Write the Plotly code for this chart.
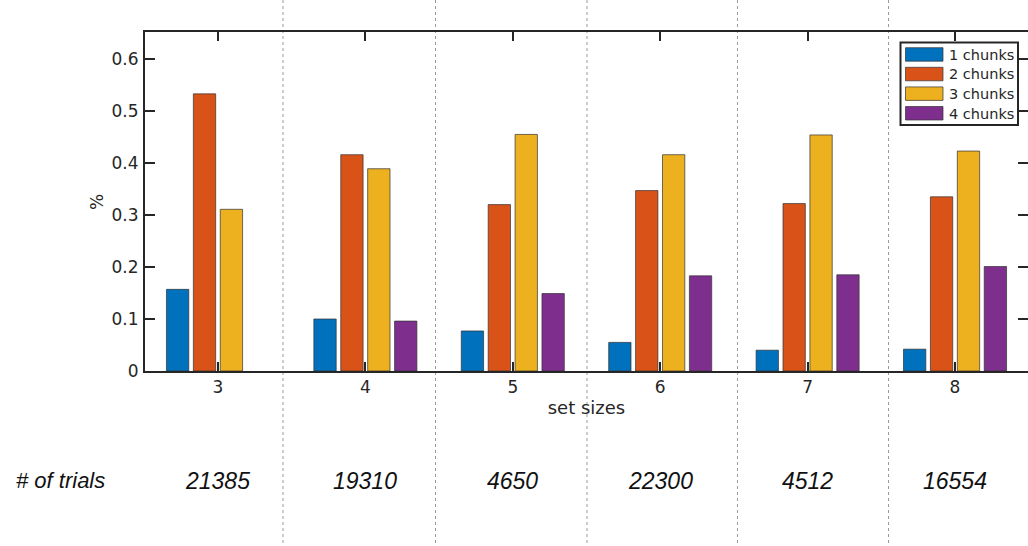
import plotly.graph_objects as go

# Data
set_sizes = [3, 4, 5, 6, 7, 8]
series_names = ["1 chunks", "2 chunks", "3 chunks", "4 chunks"]
chunks_1 = [0.157, 0.100, 0.077, 0.055, 0.040, 0.042]
chunks_2 = [0.533, 0.416, 0.320, 0.347, 0.322, 0.335]
chunks_3 = [0.311, 0.389, 0.455, 0.416, 0.454, 0.423]
chunks_4 = [0.000, 0.096, 0.149, 0.183, 0.185, 0.201]
n_trials = ["21385", "19310", "4650", "22300", "4512", "16554"]
y_ticks = [0, 0.1, 0.2, 0.3, 0.4, 0.5, 0.6]
y_tick_labels = ["0", "0.1", "0.2", "0.3", "0.4", "0.5", "0.6"]

colors = ["#0072BD", "#D95319", "#EDB120", "#7E2F8E"]
series = [chunks_1, chunks_2, chunks_3, chunks_4]

W, H = 1028, 546
L, R, T, B = 145, 0, 32, 175
AX = "#262626"
FONT = "DejaVu Sans"
EDGE = "rgba(50,50,50,0.7)"


def px(xp):
    return (xp - L) / (W - L - R)


def py(yp):
    return (H - B - yp) / (H - T - B)


fig = go.Figure()
for name, vals, c in zip(series_names, series, colors):
    fig.add_trace(go.Bar(
        x=set_sizes, y=vals, name=name,
        marker=dict(color=c,
                    line=dict(color=EDGE, width=[1 if v > 0 else 0 for v in vals])),
        showlegend=False,
    ))

shapes = []
# dotted column separators of the trials table
for xp in [283, 435.5, 587, 737.5, 888.5]:
    shapes.append(dict(type="line", xref="paper", yref="paper",
                       x0=px(xp), x1=px(xp), y0=py(0), y1=py(H),
                       line=dict(color="#9a9a9a", width=1, dash="dot"),
                       layer="below"))

# legend box
shapes.append(dict(type="rect", xref="paper", yref="paper",
                   x0=px(900.5), x1=px(1018), y0=py(42.5), y1=py(125),
                   line=dict(color=AX, width=2), fillcolor="white", layer="above"))
annotations = []
row_top = [47.7, 67.3, 86.9, 106.5]
for name, c, yt in zip(series_names, colors, row_top):
    shapes.append(dict(type="rect", xref="paper", yref="paper",
                       x0=px(905.5), x1=px(943), y0=py(yt), y1=py(yt + 13.5),
                       line=dict(color=EDGE, width=1),
                       fillcolor=c, layer="above"))
    annotations.append(dict(text=name, xref="paper", yref="paper",
                            x=px(947), y=py(yt + 7), xanchor="left", yanchor="middle",
                            showarrow=False, font=dict(family=FONT, size=14.5, color=AX)))

# y axis title
annotations.append(dict(text="%", xref="paper", yref="paper", x=px(97), y=py(202),
                        textangle=-90, showarrow=False, xanchor="center", yanchor="middle",
                        font=dict(family=FONT, size=17, color=AX)))

# trials row
annotations.append(dict(text="<i># of trials</i>", xref="paper", yref="paper",
                        x=px(60), y=py(481), showarrow=False, xanchor="center",
                        yanchor="middle",
                        font=dict(family="Liberation Sans", size=22, color="#111111")))
for s, n in zip(set_sizes, n_trials):
    annotations.append(dict(text=f"<i>{n}</i>", xref="x", yref="paper",
                            x=s, y=py(481), showarrow=False, xanchor="center",
                            yanchor="middle",
                            font=dict(family="Liberation Sans", size=23, color="#111111")))

fig.update_layout(
    width=W, height=H,
    margin=dict(l=L, r=R, t=T, b=B, pad=0),
    paper_bgcolor="white", plot_bgcolor="white",
    barmode="group", bargap=0.27, bargroupgap=0.17,
    shapes=shapes, annotations=annotations,
    font=dict(family=FONT, size=17, color=AX),
    xaxis=dict(
        range=[2.505, 8.495], tickvals=set_sizes,
        ticktext=[str(s) for s in set_sizes],
        ticks="inside", ticklen=9, tickwidth=2, tickcolor=AX,
        showline=True, linecolor=AX, linewidth=2, mirror="ticks",
        showgrid=False, zeroline=False,
        tickfont=dict(family=FONT, size=17, color=AX),
        title=dict(text="set sizes", standoff=5,
                   font=dict(family=FONT, size=18, color=AX)),
    ),
    yaxis=dict(
        range=[0, 0.652], tickvals=y_ticks, ticktext=y_tick_labels,
        ticks="inside", ticklen=10, tickwidth=2, tickcolor=AX,
        showline=True, linecolor=AX, linewidth=2, mirror=False,
        showgrid=False, zeroline=False, ticklabelstandoff=1,
        tickfont=dict(family=FONT, size=17, color=AX),
    ),
    yaxis2=dict(
        overlaying="y", side="right", matches="y", anchor="x",
        range=[0, 0.652], tickvals=y_ticks, showticklabels=False,
        ticks="inside", ticklen=10, tickwidth=2, tickcolor=AX,
        showline=False, showgrid=False, zeroline=False,
    ),
)

# invisible trace to put the right-hand tick axis on the chart
fig.add_trace(go.Scatter(x=[set_sizes[0]], y=[0], yaxis="y2", mode="markers",
                         marker=dict(opacity=0), showlegend=False, hoverinfo="skip"))

fig.write_html("out.html")
